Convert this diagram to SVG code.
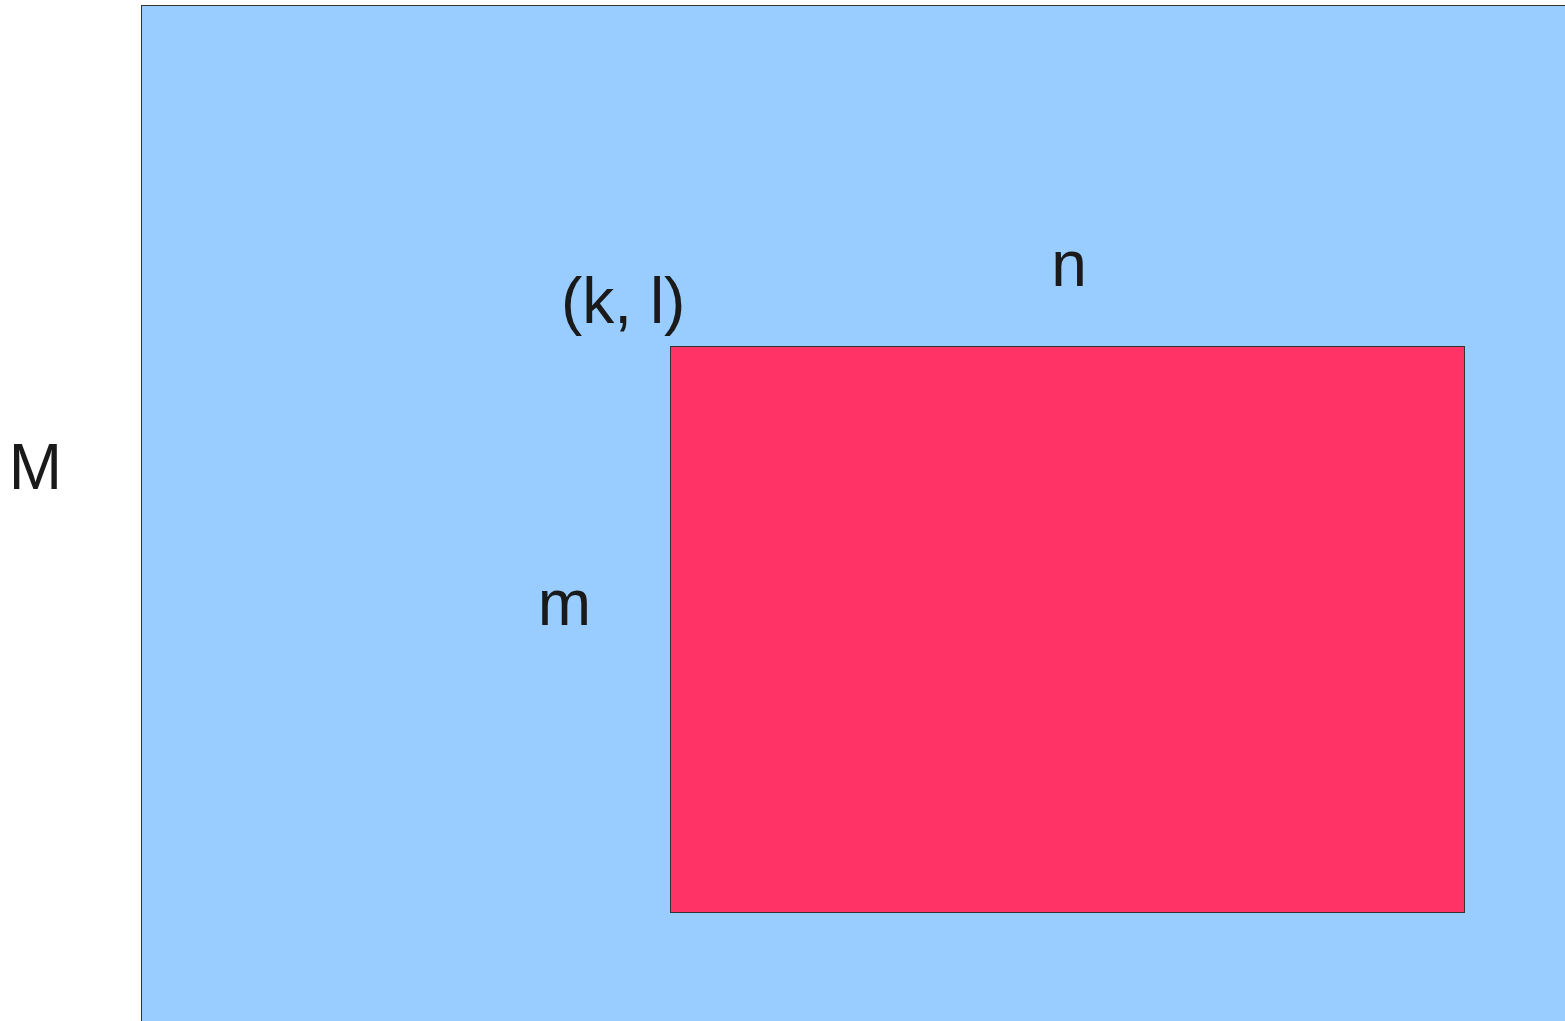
<svg xmlns="http://www.w3.org/2000/svg" width="1565" height="1021" viewBox="0 0 1565 1021">
<style>
.lbl{font-family:"Liberation Sans",Arial,sans-serif;font-size:64px;fill:#1a1a1a}
</style>
<rect width="1565" height="1021" fill="#ffffff"/>
<g id="outer">
<rect x="141.5" y="5.5" width="1440" height="1030" fill="#99ccff" stroke="#333333" stroke-width="1"/>
</g>
<g id="inner">
<rect x="670.5" y="346.5" width="794" height="566" fill="#ff3366" stroke="#333333" stroke-width="1"/>
</g>
<g id="labels">
<text class="lbl" x="35.5" y="489" text-anchor="middle">M</text>
<text class="lbl" x="561" y="323">(k, l)</text>
<text class="lbl" x="1069" y="286" text-anchor="middle">n</text>
<text class="lbl" x="564.5" y="625" text-anchor="middle">m</text>
</g>
</svg>
